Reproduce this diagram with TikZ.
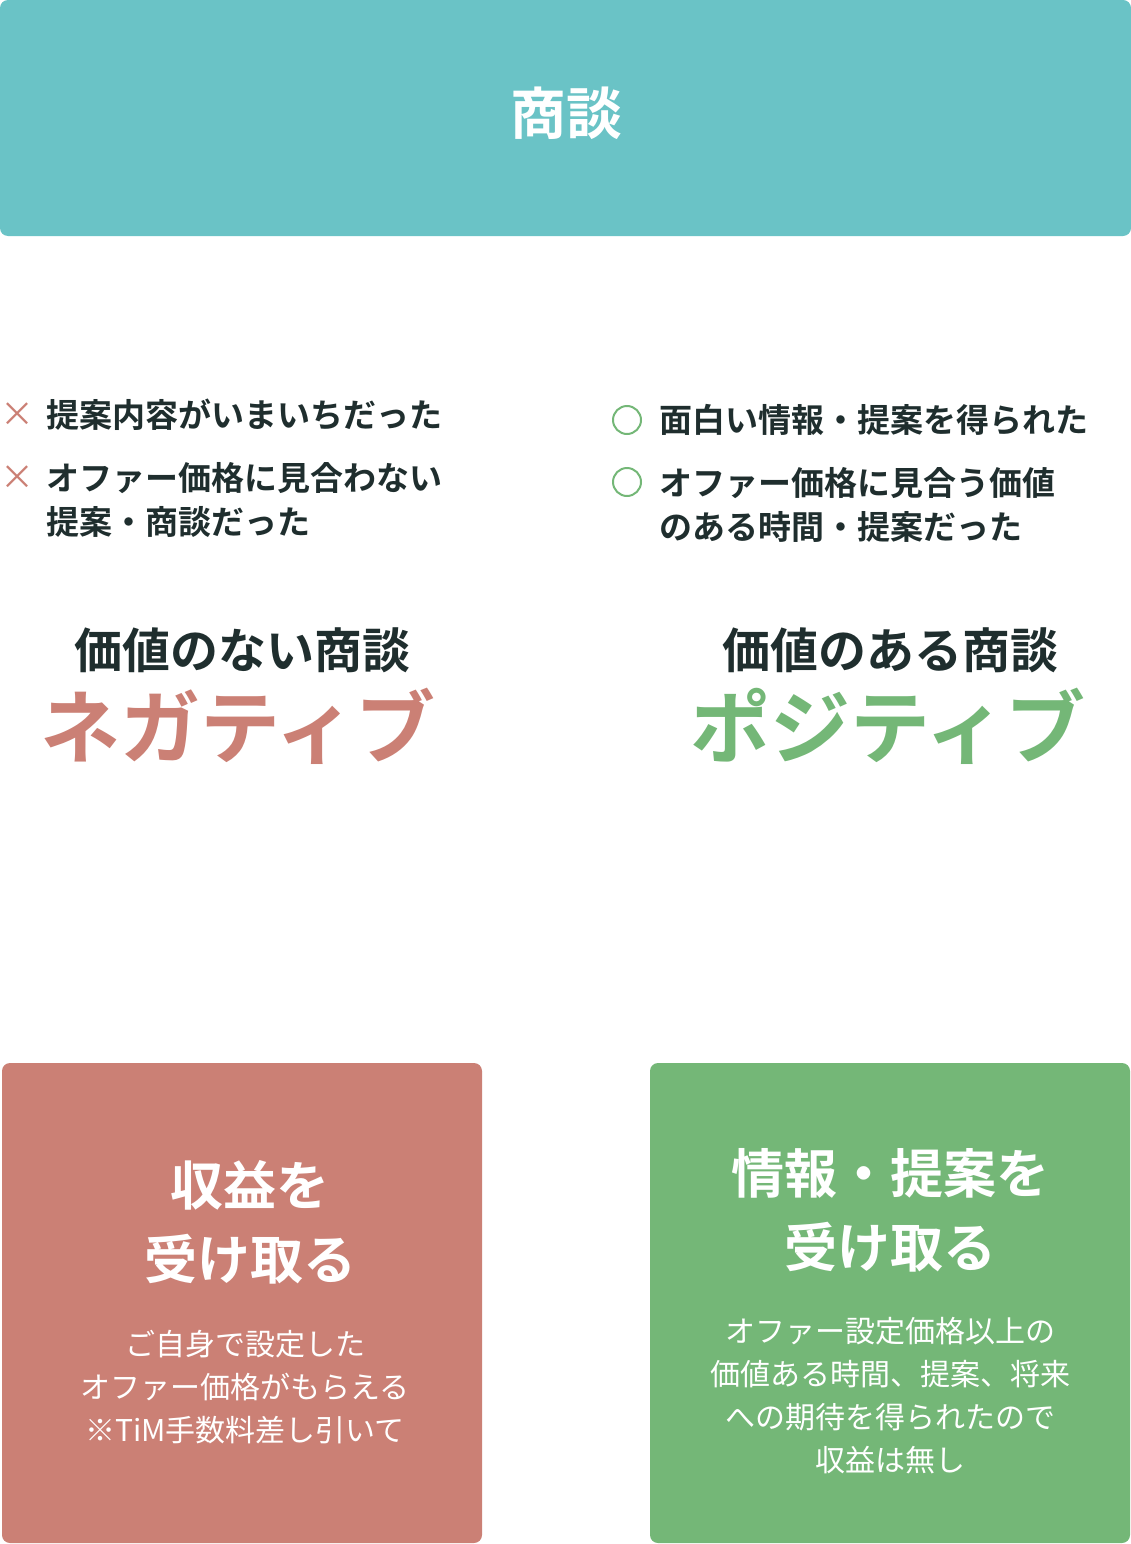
\documentclass[tikz,border=0pt]{standalone}
\usepackage{fontspec}
\setmainfont{Noto Sans CJK JP}
\newfontfamily\jpb{Noto Sans CJK JP Bold}
\definecolor{tealc}{HTML}{6AC3C6}
\definecolor{negc}{HTML}{CB8075}
\definecolor{posc}{HTML}{74B777}
\definecolor{ink}{HTML}{1F2E2E}
\tikzset{px/.style={x=1pt,y=-1pt},
 box/.style={rounded corners=8pt,draw=none},
 item/.style={anchor=west,font=\jpb\fontsize{33}{44}\selectfont,text=ink,align=left,inner sep=0},
 head/.style={font=\jpb\fontsize{48}{56}\selectfont,text=ink,inner sep=0},
 big/.style={font=\jpb\fontsize{80}{90}\selectfont,inner sep=0},
 title/.style={font=\jpb\fontsize{53}{74}\selectfont,text=white,align=center,inner sep=0},
 sub/.style={font=\fontsize{30}{43}\selectfont,text=white,align=center,inner sep=0}}
\begin{document}
\begin{tikzpicture}[px]
\useasboundingbox (0,0) rectangle (1131,1544);
\fill[tealc,box] (0,0) rectangle (1131,236);
\node[font=\jpb\fontsize{56}{60}\selectfont,text=white] (top) at (566,113) {商談};
% negative items
\node[item,text=negc,font=\fontsize{34}{40}\selectfont] (x1) at (0,415) {×};
\node[item] (n1) at (46,415) {提案内容がいまいちだった};
\node[item,text=negc,font=\fontsize{34}{40}\selectfont] (x2) at (0,478) {×};
\node[item] (n2) at (46,500) {オファー価格に見合わない\\提案・商談だった};
\node[draw=posc,line width=2pt,circle,minimum size=28pt,inner sep=0] (o1) at (627,420) {};
\node[item] (p1) at (659,420) {面白い情報・提案を得られた};
\node[draw=posc,line width=2pt,circle,minimum size=28pt,inner sep=0] (o2) at (627,482) {};
\node[item] (p2) at (659,505) {オファー価格に見合う価値\\のある時間・提案だった};
\node[head] (h1) at (242,650) {価値のない商談};
\node[head] (h2) at (890,650) {価値のある商談};
\node[big,text=negc] (b1) at (238,726) {ネガティブ};
\node[big,text=posc] (b2) at (888,726) {ポジティブ};
% boxes
\fill[negc,box] (2,1063) rectangle (482,1543);
\fill[posc,box] (650,1063) rectangle (1130,1543);
\node[title] (t1) at (250,1222) {収益を\\受け取る};
\node[sub] (s1) at (245,1387) {ご自身で設定した\\オファー価格がもらえる\\※TiM手数料差し引いて};
\node[title] (t2) at (890,1210) {情報・提案を\\受け取る};
\node[sub] (s2) at (890,1396) {オファー設定価格以上の\\価値ある時間、提案、将来\\への期待を得られたので\\収益は無し};
\end{tikzpicture}
\end{document}
